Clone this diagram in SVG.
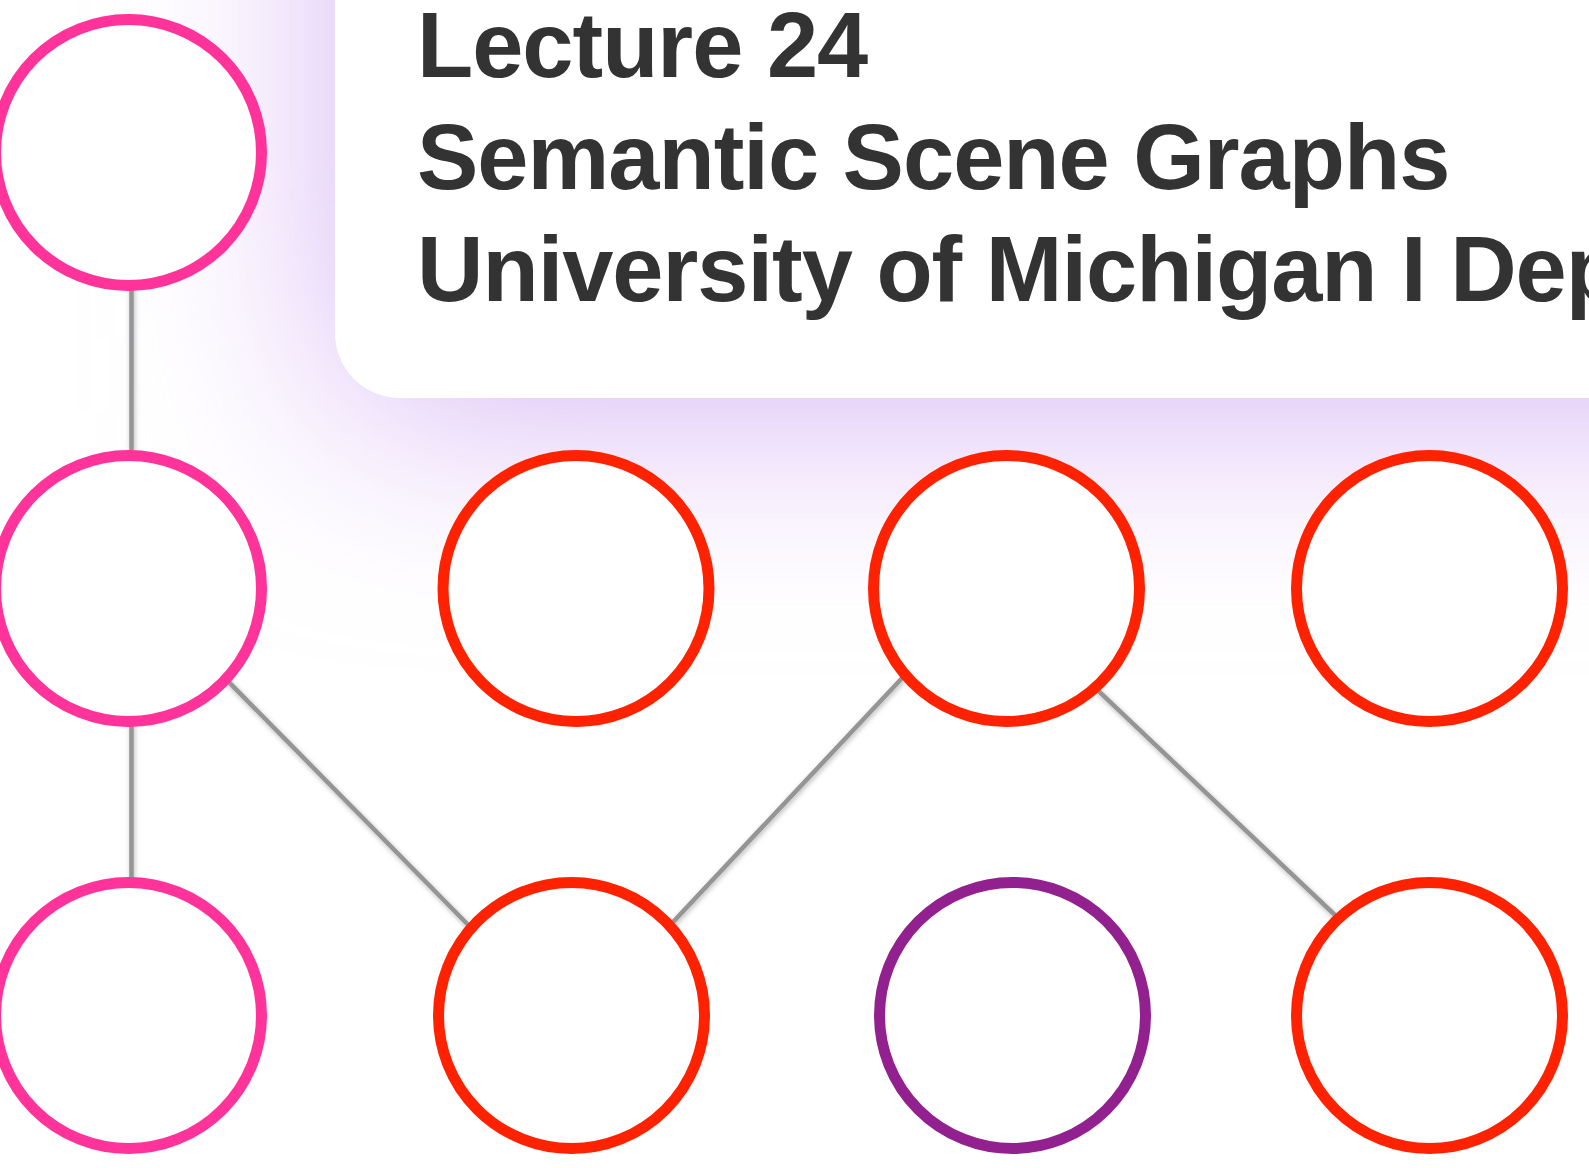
<svg xmlns="http://www.w3.org/2000/svg" width="1589" height="1168" viewBox="0 0 1589 1168">
  <defs>
    <filter id="glow" filterUnits="userSpaceOnUse" x="-600" y="-800" width="3000" height="2200">
      <feGaussianBlur stdDeviation="110"/>
    </filter>
    <filter id="lineShadow" filterUnits="userSpaceOnUse" x="0" y="0" width="1589" height="1168">
      <feDropShadow dx="1" dy="2" stdDeviation="2.5" flood-color="#000000" flood-opacity="0.28"/>
    </filter>
    <style>
      .title { font-family: "Liberation Sans", Arial, Helvetica, sans-serif; font-weight: bold; font-size: 92px; fill: #333333; letter-spacing: -1px; }
      .edge { stroke: #959595; stroke-width: 4.5; fill: none; stroke-linecap: butt; }
      .node { fill: #ffffff; stroke-width: 11; }
      .pink { stroke: #FF3399; }
      .red { stroke: #FF2200; }
      .purple { stroke: #92208F; }
    </style>
  </defs>

  <rect x="0" y="0" width="1589" height="1168" fill="#ffffff"/>

  <g id="header">
    <rect x="339" y="-400" width="2000" height="811" fill="#D6B2F4" filter="url(#glow)"/>
    <rect x="335" y="-100" width="1400" height="498" rx="65" ry="65" fill="#ffffff"/>
    <text class="title" x="417" y="77">Lecture 24</text>
    <text class="title" x="417" y="189">Semantic Scene Graphs</text>
    <text class="title" x="417" y="301">University of Michigan I Dep</text>
  </g>

  <g id="connectors" filter="url(#lineShadow)">
    <line class="edge" x1="131.5" y1="200" x2="131.5" y2="540"/>
    <line class="edge" x1="131.5" y1="640" x2="131.5" y2="960"/>
    <line class="edge" x1="224.7" y1="677.8" x2="473.7" y2="930.5"/>
    <line class="edge" x1="907.8" y1="672" x2="666.5" y2="929"/>
    <line class="edge" x1="1091" y1="683.8" x2="1342.3" y2="922"/>
  </g>

  <g id="n1"><circle class="node pink" cx="128.5" cy="152.5" r="133"/></g>
  <g id="n2"><circle class="node pink" cx="128.5" cy="588.5" r="133"/></g>
  <g id="n3"><circle class="node red" cx="576" cy="588.5" r="133"/></g>
  <g id="n4"><circle class="node red" cx="1006.5" cy="588.5" r="133"/></g>
  <g id="n5"><circle class="node red" cx="1429.5" cy="588.5" r="133"/></g>
  <g id="n6"><circle class="node pink" cx="128.5" cy="1015.5" r="133"/></g>
  <g id="n7"><circle class="node red" cx="571.5" cy="1015.5" r="133"/></g>
  <g id="n8"><circle class="node purple" cx="1012.5" cy="1015.5" r="133"/></g>
  <g id="n9"><circle class="node red" cx="1429.5" cy="1015.5" r="133"/></g>
</svg>
